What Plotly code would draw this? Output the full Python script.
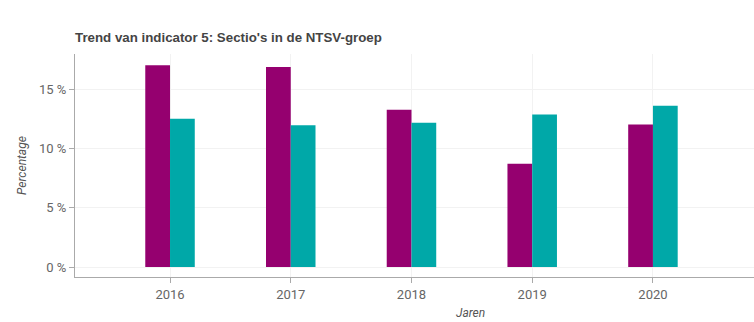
import plotly.graph_objects as go

years = [2016, 2017, 2018, 2019, 2020]
serie_a = [17.0, 16.85, 13.25, 8.7, 12.0]
serie_b = [12.5, 11.95, 12.15, 12.85, 13.6]
y_ticks = [0, 5, 10, 15]
y_labels = ["0 %", "5 %", "10 %", "15 %"]

fig = go.Figure()
fig.add_trace(go.Bar(x=years, y=serie_a, marker=dict(color="#95006f", line=dict(width=0)), showlegend=False))
fig.add_trace(go.Bar(x=years, y=serie_b, marker=dict(color="#00a8a8", line=dict(width=0)), showlegend=False))

font_fam = "Roboto, Arial, sans-serif"
fig.update_layout(
    width=754, height=322,
    margin=dict(l=75, r=0, t=54, b=45),
    paper_bgcolor="white", plot_bgcolor="white",
    barmode="group", bargap=0.59, bargroupgap=0,
    font=dict(family=font_fam, size=12, color="#555"),
    title=dict(text="<b>Trend van indicator 5: Sectio's in de NTSV-groep</b>",
               x=75/754, xanchor="left", y=1 - 37/322, yanchor="middle",
               font=dict(family="Liberation Sans, Arial, sans-serif", size=13.3, color="#444")),
    xaxis=dict(range=[2015.213, 2020.837], tickvals=years, ticktext=[str(y) for y in years],
               showgrid=True, gridcolor="#f2f2f2", gridwidth=1,
               showline=True, linecolor="#aaa", linewidth=1,
               ticks="outside", ticklen=5, tickcolor="#aaa",
               tickfont=dict(size=13, color="#666"), zeroline=False),
    yaxis=dict(range=[-0.84, 17.95], tickvals=y_ticks, ticktext=y_labels,
               showgrid=True, gridcolor="#f2f2f2", gridwidth=1,
               showline=True, linecolor="#aaa", linewidth=1,
               ticks="outside", ticklen=5, tickcolor="#aaa",
               tickfont=dict(size=13, color="#666"), zeroline=False,
               title=dict(text="<i>Percentage</i>", standoff=9, font=dict(size=12, color="#555"))),
)
fig.add_annotation(text="<i>Jaren</i>", xref="paper", yref="paper", x=(470-75)/679, y=-(313-277)/223,
                   xanchor="center", yanchor="middle", showarrow=False,
                   font=dict(size=12, color="#555", family=font_fam))
fig.write_html("out.html")
